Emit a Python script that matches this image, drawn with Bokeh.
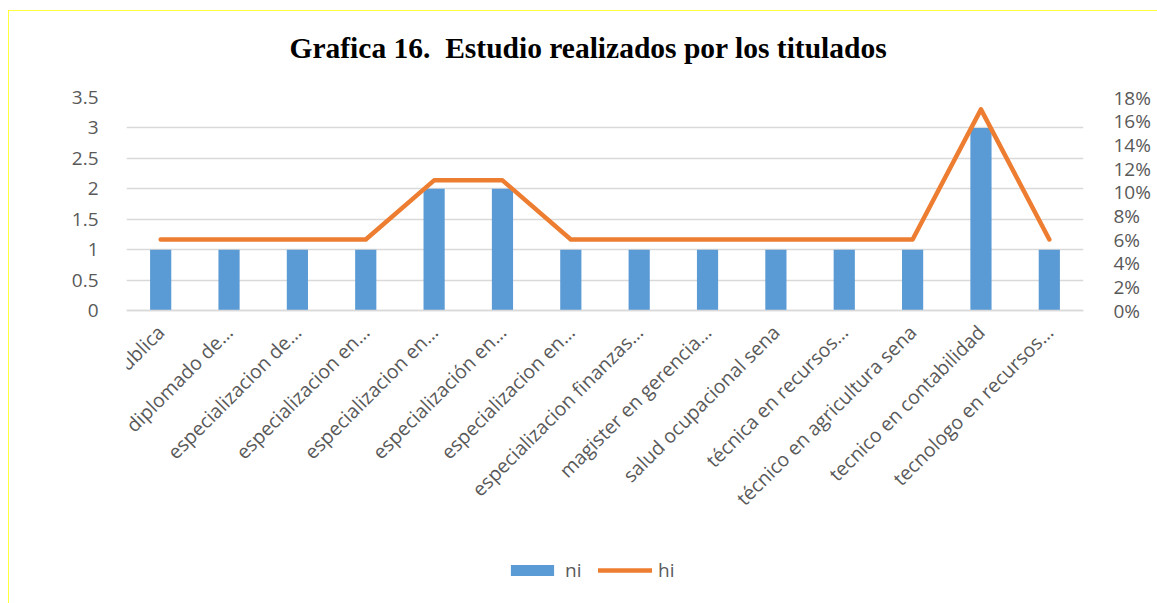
import math
from bokeh.plotting import figure
from bokeh.models import Range1d, LinearAxis, FixedTicker, NumeralTickFormatter, Legend, LegendItem, Title
from bokeh.embed import file_html
from bokeh.resources import INLINE

categories = [
    "contaduria publica", "diplomado de…", "especializacion de…", "especializacion en…",
    "especializacion en…", "especialización en…", "especializacion en…",
    "especializacion finanzas…", "magister en gerencia…", "salud ocupacional sena",
    "técnica en recursos…", "técnico en agricultura sena", "tecnico en contabilidad",
    "tecnologo en recursos…",
]
ni = [1, 1, 1, 1, 2, 2, 1, 1, 1, 1, 1, 1, 3, 1]
hi = [0.06, 0.06, 0.06, 0.06, 0.11, 0.11, 0.06, 0.06, 0.06, 0.06, 0.06, 0.06, 0.17, 0.06]
left_ticks = [0, 0.5, 1, 1.5, 2, 2.5, 3, 3.5]
right_ticks = [0, 0.02, 0.04, 0.06, 0.08, 0.10, 0.12, 0.14, 0.16, 0.18]

xs = list(range(len(categories)))

# layout (pixels): value area is 213 px tall, with 285 px of frame kept below the zero line
value_px = 213
below_px = 285
left_top = left_ticks[-1]
right_top = right_ticks[-1]
left_start = -below_px * left_top / value_px
right_start = -below_px * right_top / value_px

p = figure(frame_width=957, frame_height=value_px + below_px, output_backend="svg",
           toolbar_location=None,
           x_range=Range1d(-0.5, len(categories) - 0.5), y_range=Range1d(left_start, left_top),
           min_border_left=118, min_border_right=74, min_border_top=87, min_border_bottom=8)
p.styles = {"margin-left": "8px", "margin-top": "10px",
            "outline": "2px solid #FFFF00", "outline-offset": "-2px"}
p.outline_line_color = None
p.background_fill_color = "white"
p.border_fill_color = "white"

top_spacer = Title(text=" ", text_font="Liberation Serif", text_font_size="29.5px", standoff=0)
p.add_layout(top_spacer, "above")
t = Title(text="Grafica 16.\u00a0 Estudio realizados por los titulados", align="left",
          offset=163, text_font="Liberation Serif", text_font_style="bold",
          text_font_size="29.5px", text_color="black", standoff=0)
p.add_layout(t, "above")

p.extra_y_ranges = {"hi": Range1d(right_start, right_top)}

label_font = "Open Sans"
label_color = "#595959"

# left axis
ya = p.yaxis[0]
ya.ticker = FixedTicker(ticks=left_ticks)
ya.axis_line_color = None
ya.major_tick_line_color = None
ya.minor_tick_line_color = None
ya.major_label_standoff = 22
ya.major_label_text_font = label_font
ya.major_label_text_font_size = "19px"
ya.major_label_text_color = label_color

# right axis
ra = LinearAxis(y_range_name="hi", ticker=FixedTicker(ticks=right_ticks),
                formatter=NumeralTickFormatter(format="0%"))
ra.axis_line_color = None
ra.major_tick_line_color = None
ra.minor_tick_line_color = None
ra.major_label_standoff = 24
ra.major_label_text_font = label_font
ra.major_label_text_font_size = "19px"
ra.major_label_text_color = label_color
p.add_layout(ra, "right")

# category axis drawn on the zero line
xa = p.xaxis[0]
xa.fixed_location = 0
xa.ticker = FixedTicker(ticks=xs)
xa.major_label_overrides = {i: c for i, c in enumerate(categories)}
xa.major_label_orientation = math.pi / 4
xa.axis_line_color = "#D9D9D9"
xa.axis_line_width = 1.5
xa.major_tick_line_color = None
xa.minor_tick_line_color = None
xa.major_label_standoff = 12
xa.major_label_text_font = label_font
xa.major_label_text_font_size = "19.5px"
xa.major_label_text_color = label_color

p.xgrid.grid_line_color = None
p.ygrid.ticker = FixedTicker(ticks=left_ticks)
p.ygrid.grid_line_color = "#D9D9D9"
p.ygrid.grid_line_width = 1.5

bars = p.vbar(x=xs, top=ni, width=0.31, fill_color="#5B9BD5", line_color=None)
line = p.line(x=xs, y=hi, y_range_name="hi", line_color="#ED7D31", line_width=4.5,
              line_cap="round", line_join="round")

legend = Legend(items=[LegendItem(label="ni", renderers=[bars]),
                       LegendItem(label="hi", renderers=[line])],
                orientation="horizontal", location=(379, 12),
                glyph_width=54, glyph_height=14, label_standoff=6, spacing=13,
                padding=0, margin=0, border_line_color=None, background_fill_alpha=0,
                label_text_font=label_font, label_text_font_size="19px",
                label_text_color=label_color)
p.add_layout(legend, "center")

open("out.html", "w").write(file_html(p, INLINE))
